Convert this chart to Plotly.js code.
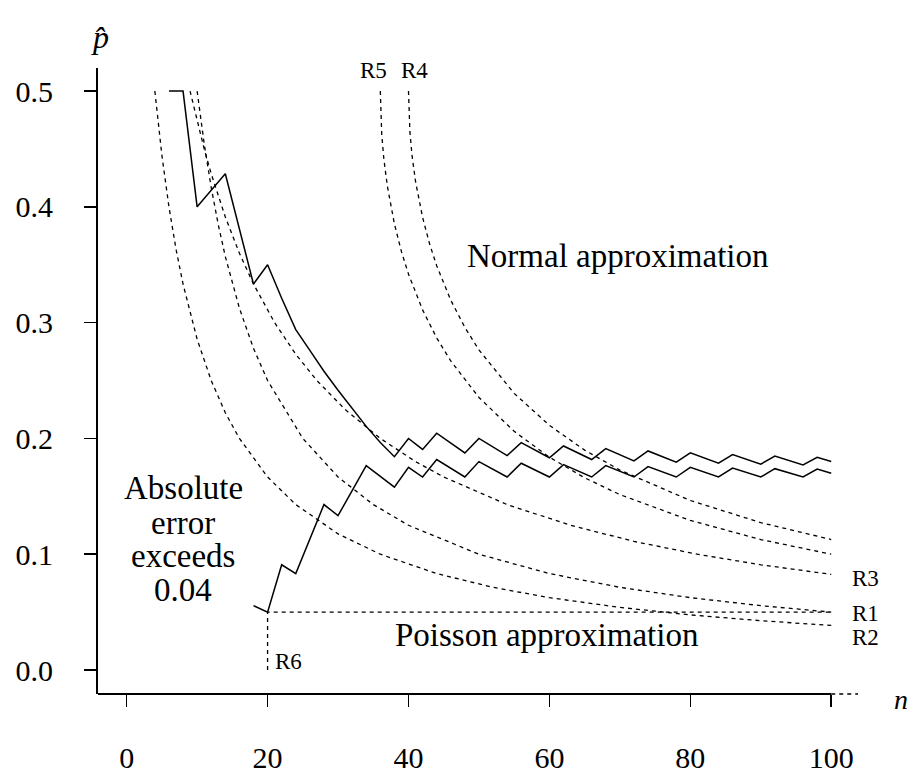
<!DOCTYPE html>
<html>
<head>
<meta charset="utf-8">
<script src="https://cdn.plot.ly/plotly-3.0.1.min.js"></script>
<style>html,body{margin:0;padding:0;background:#fff;}#chart{width:913px;height:780px;}</style>
</head>
<body>
<div id="chart"></div>
<script>
// ---- data ----
const nR1 = [10,11,12,13,14,16,18,20,25,30,35,40,50,60,70,80,90,100];
const pR1 = [0.5,0.4545,0.4167,0.3846,0.3571,0.3125,0.2778,0.25,0.2,0.1667,0.1429,0.125,0.1,0.0833,0.0714,0.0625,0.0556,0.05];

const nR2 = [4,5,6,7,8,10,12,14,16,20,24,30,36,44,52,60,70,80,90,100];
const pR2 = [0.5,0.4444,0.4,0.3636,0.3333,0.2857,0.25,0.2222,0.2,0.1667,0.1429,0.1176,0.1,0.0833,0.0714,0.0625,0.0541,0.0476,0.0426,0.0385];

const nR3 = [9,10,11,12,14,16,18,21,24,27,31,36,41,45,54,63,72,81,90,100];
const pR3 = [0.5,0.4737,0.45,0.4286,0.3913,0.36,0.3333,0.3,0.2727,0.25,0.225,0.2,0.18,0.1667,0.1429,0.125,0.1111,0.1,0.0909,0.0826];

const nR4 = [40,40.2,40.5,41,42,43,44,46,48,50,55,60,65,70,80,90,100];
const pR4 = [0.5,0.4647,0.4444,0.4219,0.3909,0.3679,0.3492,0.3194,0.2959,0.2764,0.2389,0.2113,0.1899,0.1727,0.1464,0.1273,0.1127];

const nR5 = [36,36.2,36.5,37,38,39,40,42,44,46,50,55,60,65,70,80,90,100];
const pR5 = [0.5,0.4628,0.4415,0.4178,0.3853,0.3613,0.3419,0.311,0.2868,0.2669,0.2354,0.2061,0.1838,0.166,0.1515,0.1292,0.1127,0.1];

const nR6 = [20,20,100];
const pR6 = [0,0.05,0.05];

const nUpper = [6,8,10,14,18,20,22,24,26,28,30,32,34,36,38,40,42,44,48,50,54,56,60,62,66,68,72,74,78,80,84,86,90,92,96,98,100];
const pUpper = [0.5,0.5,0.4,0.4286,0.3333,0.35,0.321,0.294,0.276,0.258,0.2416,0.2256,0.2104,0.1965,0.1842,0.2,0.1905,0.2045,0.1875,0.2,0.1852,0.1964,0.1833,0.1935,0.1818,0.1912,0.1806,0.1892,0.1795,0.1875,0.1786,0.186,0.1778,0.1848,0.1771,0.1837,0.18];

const nLower = [18,20,22,24,28,30,34,38,40,42,44,48,50,54,56,60,62,66,68,72,74,78,80,84,86,90,92,96,98,100];
const pLower = [0.0556,0.05,0.0909,0.0833,0.1429,0.1333,0.1765,0.1579,0.175,0.1667,0.1818,0.1667,0.18,0.1667,0.1786,0.1667,0.1774,0.1667,0.1765,0.1667,0.1757,0.1667,0.175,0.1667,0.1744,0.1667,0.1739,0.1667,0.1735,0.17];

const xTicks = [0,20,40,60,80,100];
const xTickText = ["0","20","40","60","80","100"];
const yTicks = [0,0.1,0.2,0.3,0.4,0.5];
const yTickText = ["0.0","0.1","0.2","0.3","0.4","0.5"];

// ---- styling ----
const SERIF = "Liberation Serif, Times New Roman, serif";
const dashed = {color:"black", width:1.3, dash:"4px,4px"};
const solid = {color:"black", width:1.5};

function tr(x, y, line){
  return {x:x, y:y, type:"scatter", mode:"lines", line:line, hoverinfo:"skip", showlegend:false, cliponaxis:false};
}

const data = [
  tr(nR1,pR1,dashed), tr(nR2,pR2,dashed), tr(nR3,pR3,dashed),
  tr(nR4,pR4,dashed), tr(nR5,pR5,dashed), tr(nR6,pR6,dashed),
  tr(nUpper,pUpper,solid), tr(nLower,pLower,solid)
];

function ann(text, x, y, size, opts){
  return Object.assign({text:text, x:x, y:y, xref:"x", yref:"y", showarrow:false,
    xanchor:"center", yanchor:"middle", font:{family:SERIF, size:size, color:"black"}}, opts||{});
}

const annotations = [
  ann("Normal approximation", 69.7, 0.3575, 33),
  ann("Poisson approximation", 59.6, 0.030, 33),
  ann("Absolute", 8.0, 0.157, 33),
  ann("error", 8.0, 0.1267, 33),
  ann("exceeds", 8.0, 0.0985, 33),
  ann("0.04", 8.0, 0.0695, 33),
  ann("R3", 102.7, 0.079, 23, {xanchor:"left"}),
  ann("R1", 102.7, 0.0488, 23, {xanchor:"left"}),
  ann("R2", 102.7, 0.0281, 23, {xanchor:"left"}),
  ann("R6", 20.77, 0.0078, 23, {xanchor:"left"}),
  ann("R5", 35.0, 0.518, 23),
  ann("R4", 40.8, 0.518, 23),
  ann("<i>n</i>", 1.057, -0.008, 28, {xref:"paper", yref:"paper"}),
  ann("<i>p\u0302</i>", 0.002, 1.05, 32, {xref:"paper", yref:"paper"})
];

const layout = {
  width:913, height:780,
  margin:{l:98, r:55, t:68, b:86, pad:0},
  paper_bgcolor:"white", plot_bgcolor:"white",
  showlegend:false,
  font:{family:SERIF, color:"black"},
  xaxis:{
    range:[-4.07, 103.8], showgrid:false, zeroline:false,
    showline:false,
    tickmode:"array", tickvals:xTicks, ticktext:xTickText,
    ticks:"outside", ticklen:12, tickwidth:1.5, tickcolor:"black",
    ticklabelstandoff:25,
    tickfont:{family:SERIF, size:30, color:"black"}
  },
  yaxis:{
    range:[-0.0207, 0.5199], showgrid:false, zeroline:false,
    showline:true, linecolor:"black", linewidth:2,
    tickmode:"array", tickvals:yTicks, ticktext:yTickText,
    ticks:"outside", ticklen:12, tickwidth:1.5, tickcolor:"black",
    ticklabelstandoff:25,
    tickfont:{family:SERIF, size:30, color:"black"}
  },
  shapes:[
    {type:"line", xref:"paper", yref:"paper", x0:0, x1:0.9648, y0:0, y1:0, line:{color:"black", width:2}},
    {type:"line", xref:"paper", yref:"paper", x0:0.9648, x1:1, y0:0, y1:0, line:{color:"black", width:1.3, dash:"4px,4px"}}
  ],
  annotations:annotations
};

Plotly.newPlot("chart", data, layout, {staticPlot:true, displayModeBar:false});
</script>
</body>
</html>
